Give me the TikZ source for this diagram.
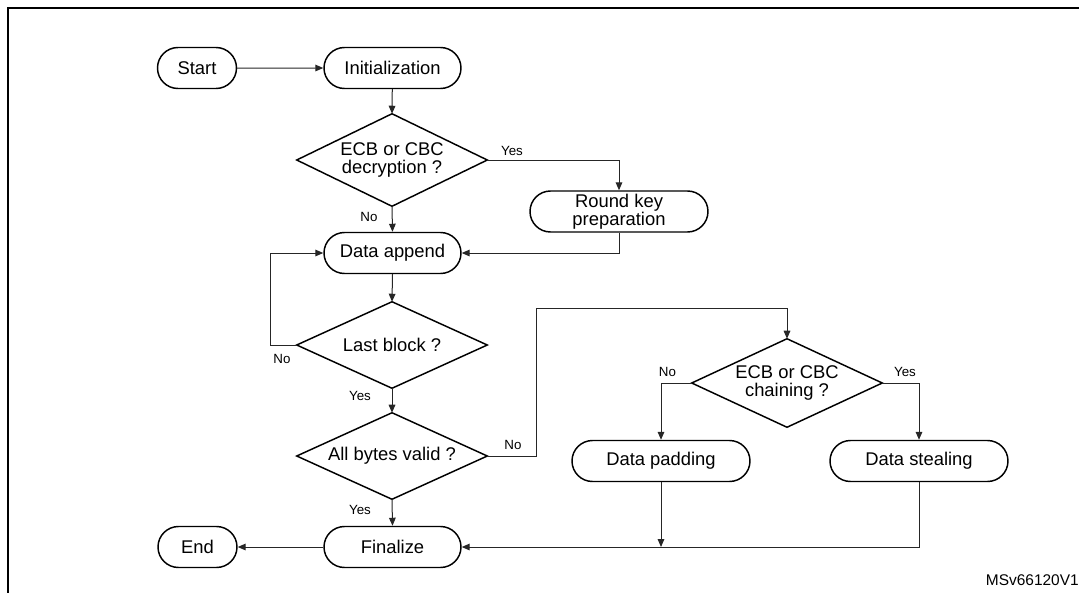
\documentclass[tikz,border=0pt]{standalone}
\usepackage{fontspec}
\setmainfont{Liberation Sans}
\usetikzlibrary{shapes.misc,arrows.meta}
\begin{document}
\begin{tikzpicture}[x=0.75pt,y=-0.75pt,
  term/.style={rounded rectangle, draw, line width=1.1pt, minimum height=30.75pt,
    inner sep=0pt, font=\fontsize{13.8pt}{12.5pt}\selectfont, align=center},
  small/.style={term, minimum width=59.25pt},
  mid/.style={term, minimum width=102.75pt},
  wide/.style={term, minimum width=133.5pt},
  dec/.style={rectangle, minimum width=142.5pt, minimum height=#1,
    inner sep=0pt, font=\fontsize{13.8pt}{14.2pt}\selectfont, align=center},
  decline/.style={line width=1.1pt, line join=miter},
  lbl/.style={font=\fontsize{10pt}{12pt}\selectfont, inner sep=0pt},
  conn/.style={line width=0.75pt, draw=black!85},
  arr/.style={conn, -{Triangle[length=6pt,width=5pt]}}
]
\useasboundingbox (0,0) rectangle (1079,593);
% frame
\draw[line width=1.4pt] (1079,8) -- (8,8) -- (8,593);

% nodes
\node[small] (start) at (197,68) {Start};
\node[mid] (init) at (392.5,68) {Initialization};
\node[dec=69pt] (d1) at (392,160) {ECB or CBC\\decryption ?};
\node[wide] (rk) at (619,211.5) {Round key\\preparation};
\node[mid] (da) at (392.5,253) {Data append};
\node[dec=64.5pt] (lb) at (392,345) {Last block ?};
\node[dec=64.5pt] (ab) at (392,456) {All bytes valid ?};
\node[mid] (fin) at (392.5,547) {Finalize};
\node[small] (end) at (197.5,547) {End};
\node[dec=66pt] (d2) at (787,383) {ECB or CBC\\chaining ?};
\node[wide] (dp) at (661,461) {Data padding};
\node[wide] (ds) at (919,461) {Data stealing};

% diamond outlines
\foreach \n in {d1,lb,ab,d2}
  \draw[decline] (\n.north) -- (\n.east) -- (\n.south) -- (\n.west) -- cycle;

% labels
\node[lbl] (l1) at (512,151) {Yes};
\node[lbl] (l2) at (369,217) {No};
\node[lbl] (l3) at (282,359) {No};
\node[lbl] (l4) at (360,396) {Yes};
\node[lbl] (l5) at (513,445) {No};
\node[lbl] (l6) at (360,509.5) {Yes};
\node[lbl] (l7) at (667.5,372) {No};
\node[lbl] (l8) at (905,372) {Yes};
\node[anchor=base east, inner sep=0pt, font=\fontsize{11.6pt}{12pt}\selectfont] (id) at (1079,585) {MSv66120V1};

% helper coordinates
\coordinate (loopx) at (270,345);
\coordinate (nox) at (536,308);

% connectors
\draw[arr] (start) -- (init);
\draw[arr] (init) -- (d1.north);
\draw[arr] (d1.east) -| (rk.north);
\draw[arr] (d1.south) -- (da.north);
\draw[arr] (rk.south) |- (da.east);
\draw[arr] (da.south) -- (lb.north);
\draw[arr] (lb.west) -- (loopx) |- (da.west);
\draw[arr] (lb.south) -- (ab.north);
\draw[arr] (ab.east) -| (nox) -| (d2.north);
\draw[arr] (ab.south) -- (fin.north);
\draw[arr] (fin.west) -- (end.east);
\draw[arr] (d2.west) -| (dp.north);
\draw[arr] (d2.east) -| (ds.north);
\draw[arr] (ds.south) |- (fin.east);
\draw[arr] (dp.south) -- (dp.south |- fin.east);
\end{tikzpicture}
\end{document}
